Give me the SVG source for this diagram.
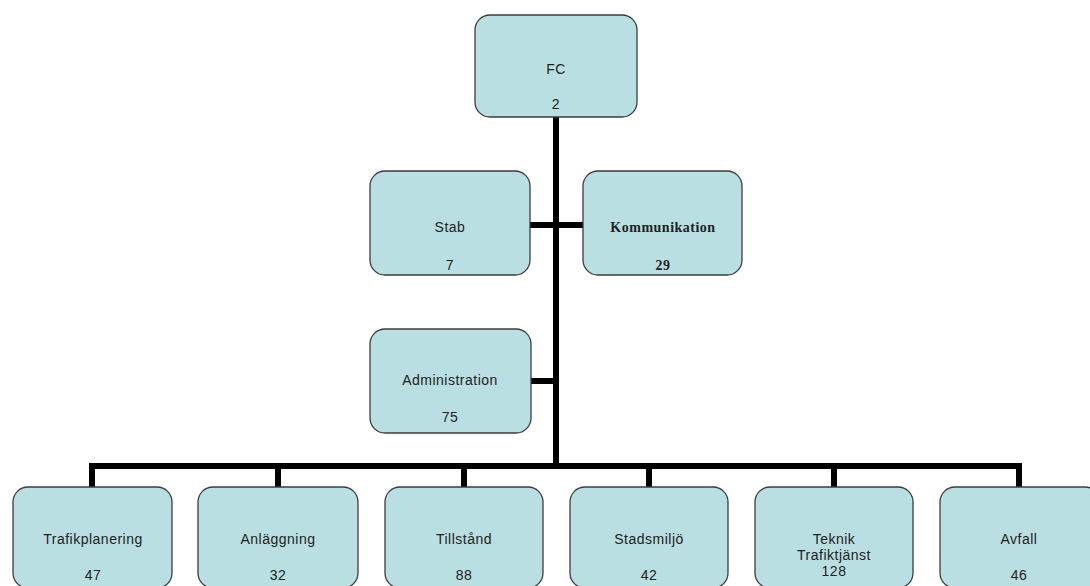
<svg xmlns="http://www.w3.org/2000/svg" width="1090" height="586" viewBox="0 0 1090 586">
<style>
.box{fill:#b9dfe3;stroke:#3c3c3c;stroke-width:1.3}
.t{font-family:"Liberation Sans",Arial,sans-serif;font-size:14px;letter-spacing:0.5px;fill:#222;text-anchor:middle}
.s{font-family:"Liberation Serif","Times New Roman",serif;font-size:14px;letter-spacing:0.5px;fill:#222;text-anchor:middle;font-weight:bold}
.c{stroke:#000;stroke-width:6;fill:none;stroke-linecap:square}
</style>
<rect width="1090" height="586" fill="#fff"/>
<g id="connectors">
<line class="c" x1="556" y1="118" x2="556" y2="466"/>
<line class="c" x1="530" y1="225" x2="583" y2="225"/>
<line class="c" x1="531" y1="381" x2="556" y2="381"/>
<polyline class="c" points="92,486 92,466 1019,466 1019,486"/>
<line class="c" x1="278" y1="466" x2="278" y2="486"/>
<line class="c" x1="464" y1="466" x2="464" y2="486"/>
<line class="c" x1="649" y1="466" x2="649" y2="486"/>
<line class="c" x1="834" y1="466" x2="834" y2="486"/>
</g>
<g id="fc"><rect class="box" x="475" y="15" width="162" height="102" rx="15"/><text class="t" x="556" y="74">FC</text><text class="t" x="556" y="109">2</text></g>
<g id="stab"><rect class="box" x="370" y="171" width="160" height="104" rx="15"/><text class="t" x="450" y="232">Stab</text><text class="t" x="450" y="270">7</text></g>
<g id="kommunikation"><rect class="box" x="583" y="171" width="159" height="104" rx="15"/><text class="s" x="663" y="232">Kommunikation</text><text class="s" x="663" y="270">29</text></g>
<g id="administration"><rect class="box" x="370" y="329" width="161" height="104" rx="15"/><text class="t" x="450" y="385">Administration</text><text class="t" x="450" y="422">75</text></g>
<g id="trafikplanering"><rect class="box" x="13" y="487" width="159" height="101" rx="15"/><text class="t" x="93" y="544">Trafikplanering</text><text class="t" x="93" y="580">47</text></g>
<g id="anlaggning"><rect class="box" x="198" y="487" width="160" height="101" rx="15"/><text class="t" x="278" y="544">Anläggning</text><text class="t" x="278" y="580">32</text></g>
<g id="tillstand"><rect class="box" x="385" y="487" width="158" height="101" rx="15"/><text class="t" x="464" y="544">Tillstånd</text><text class="t" x="464" y="580">88</text></g>
<g id="stadsmiljo"><rect class="box" x="570" y="487" width="158" height="101" rx="15"/><text class="t" x="649" y="544">Stadsmiljö</text><text class="t" x="649" y="580">42</text></g>
<g id="teknik"><rect class="box" x="755" y="487" width="158" height="101" rx="15"/><text class="t" x="834" y="544">Teknik</text><text class="t" x="834" y="560">Trafiktjänst</text><text class="t" x="834" y="576">128</text></g>
<g id="avfall"><rect class="box" x="940" y="487" width="160" height="101" rx="15"/><text class="t" x="1019" y="544">Avfall</text><text class="t" x="1019" y="580">46</text></g>
</svg>
